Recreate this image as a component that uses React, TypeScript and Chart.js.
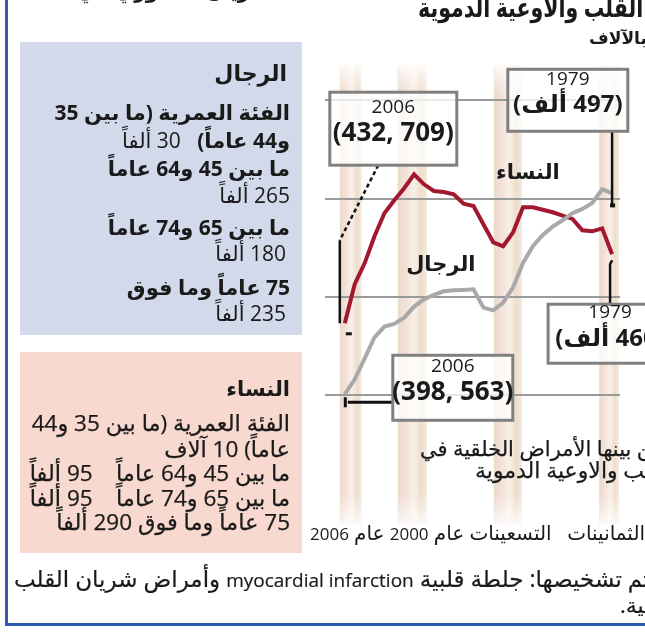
import React, { useEffect, useRef } from "react";
import { Chart, registerables } from "chart.js";

Chart.register(...registerables);

// ---- data (thousands of deaths) ----
const years = [2006, 2005, 2004, 2003, 2002, 2001, 2000, 1999, 1998, 1997, 1996, 1995, 1994, 1993, 1992, 1991, 1990, 1989, 1988, 1987, 1986, 1985, 1984, 1983, 1982, 1981, 1980, 1979];
const women = [436.6, 456.5, 467.1, 480.9, 492.6, 499.2, 505.3, 512.4, 507.3, 503.9, 503.4, 502.2, 497.4, 496.3, 487.0, 477.8, 475.8, 482.9, 495.6, 495.6, 494.4, 493.1, 491.4, 489.7, 483.9, 483.4, 484.9, 471.7];
const men = [400.5, 408.1, 418.6, 429.5, 434.9, 436.3, 439.5, 445.1, 448.8, 451.1, 452.9, 453.4, 453.6, 453.9, 444.6, 443.2, 447.1, 454.9, 467.3, 475.8, 481.6, 485.8, 489.0, 492.6, 494.8, 497.8, 504.8, 502.7];
const gridValues = [400, 450, 500, 550];
const bandRanges = [[2006.5, 2004.3], [2000.65, 1997.7], [1990.95, 1988.1], [1980.3, 1978.3]];
const axisLabels = ["الثمانينات", "\u00a0\u00a0التسعينات", "عام 2000", "عام 2006"];
const seriesNames = ["النساء", "الرجال"];

const menRows = [
  { b: "الفئة العمرية (ما بين 35", r: "" },
  { b: "و44 عاماً)", r: "30 ألفاً" },
  { b: "ما بين 45 و64 عاماً", r: "" },
  { b: "", r: "265 ألفاً" },
  { b: "ما بين 65 و74 عاماً", r: "" },
  { b: "", r: "180 ألفاً" },
  { b: "75 عاماً وما فوق", r: "" },
  { b: "", r: "235 ألفاً" },
];
const womenRows = [
  "الفئة العمرية (ما بين 35 و44",
  "عاماً)  10 آلاف",
  "ما بين 45 و64 عاماً \u00a0\u00a0 95 ألفاً",
  "ما بين 65 و74 عاماً \u00a0\u00a0 95 ألفاً",
  "75 عاماً وما فوق 290 ألفاً",
];

// annotation boxes: anchored on a dataset point, box centred at a data position
const annotationBoxes = [
  { ds: 0, idx: 0, title: "2006", value: "(432, 709)", cx: 2001.1, cy: 535.6, w: 127, h: 73, vsize: 26, dir: "ltr" },
  { ds: 1, idx: 27, title: "1979", value: "(497 ألف)", cx: 1983.47, cy: 550.05, w: 120, h: 62, vsize: 24, dir: "rtl" },
  { ds: 0, idx: 27, title: "1979", value: "(460 ألف)", cx: 1979.2, cy: 431.3, w: 124, h: 59, vsize: 24, dir: "rtl" },
  { ds: 1, idx: 0, title: "2006", value: "(398, 563)", cx: 1995.09, cy: 403.8, w: 120, h: 65, vsize: 26, dir: "ltr" },
];
const seriesLabelPos = [
  { text: seriesNames[0], x: 1987.5, y: 512.9 },
  { text: seriesNames[1], x: 1996.3, y: 466.1 },
];

const FONT = '"Open Sans", "DejaVu Sans", sans-serif';

const bandsPlugin = {
  id: "bands",
  beforeDraw(chart: any) {
    const { ctx, chartArea, scales } = chart;
    const xs = scales.x;
    ctx.save();
    bandRanges.forEach(([a, b]) => {
      const x1 = xs.getPixelForValue(a);
      const x2 = xs.getPixelForValue(b);
      const g = ctx.createLinearGradient(x1, 0, x2, 0);
      g.addColorStop(0, "rgba(226,202,176,0.7)");
      g.addColorStop(0.3, "rgba(238,210,200,0.65)");
      g.addColorStop(0.55, "rgba(244,230,214,0.6)");
      g.addColorStop(0.8, "rgba(228,206,180,0.7)");
      g.addColorStop(1, "rgba(236,216,196,0.5)");
      ctx.fillStyle = g;
      ctx.fillRect(x1, chartArea.top, x2 - x1, chartArea.bottom - chartArea.top);
      const t = ctx.createLinearGradient(0, chartArea.top, 0, chartArea.top + 30);
      t.addColorStop(0, "rgba(255,255,255,0.8)");
      t.addColorStop(1, "rgba(255,255,255,0)");
      ctx.fillStyle = t;
      ctx.fillRect(x1, chartArea.top, x2 - x1, 30);
      const bt = ctx.createLinearGradient(0, chartArea.bottom - 30, 0, chartArea.bottom);
      bt.addColorStop(0, "rgba(255,255,255,0)");
      bt.addColorStop(1, "rgba(255,255,255,0.8)");
      ctx.fillStyle = bt;
      ctx.fillRect(x1, chartArea.bottom - 30, x2 - x1, 30);
    });
    ctx.restore();
  },
};

const annotPlugin = {
  id: "annots",
  afterDatasetsDraw(chart: any) {
    const { ctx, scales } = chart;
    const xs = scales.x;
    const ys = scales.y;
    ctx.save();
    const pt = (ds: number, idx: number) => {
      const el = chart.getDatasetMeta(ds).data[idx];
      return { x: el.x, y: el.y };
    };
    const boxes = annotationBoxes.map((a) => {
      const cx = xs.getPixelForValue(a.cx);
      const cy = ys.getPixelForValue(a.cy);
      return { ...a, px: cx, py: cy, left: cx - a.w / 2, top: cy - a.h / 2, right: cx + a.w / 2, bottom: cy + a.h / 2, anchor: pt(a.ds, a.idx) };
    });
    ctx.strokeStyle = "#111";
    ctx.fillStyle = "#111";
    ctx.lineWidth = 2.5;
    {
      const b = boxes[0];
      const A = b.anchor;
      ctx.setLineDash([4, 3]);
      ctx.beginPath();
      ctx.moveTo(b.px - 15, b.bottom);
      ctx.lineTo(A.x - 5, A.y - 83);
      ctx.stroke();
      ctx.setLineDash([]);
      ctx.beginPath();
      ctx.moveTo(A.x - 5, A.y - 83);
      ctx.lineTo(A.x - 5, A.y);
      ctx.stroke();
      ctx.fillRect(A.x + 1, A.y + 9, 6, 3);
    }
    {
      const b = boxes[1];
      const A = b.anchor;
      ctx.beginPath();
      ctx.moveTo(A.x, b.bottom);
      ctx.lineTo(A.x, A.y + 12);
      ctx.stroke();
      ctx.fillRect(A.x - 2, A.y + 10, 5, 4);
    }
    {
      const b = boxes[2];
      const A = b.anchor;
      ctx.beginPath();
      ctx.moveTo(A.x, A.y + 6);
      ctx.lineTo(A.x - 2, A.y + 10);
      ctx.lineTo(A.x - 2, b.top);
      ctx.stroke();
    }
    {
      const b = boxes[3];
      const A = b.anchor;
      ctx.lineWidth = 3;
      ctx.beginPath();
      ctx.moveTo(A.x + 3, A.y + 8);
      ctx.lineTo(b.left, A.y + 8);
      ctx.stroke();
      ctx.fillRect(A.x - 1, A.y + 3, 3, 10);
    }
    boxes.forEach((b) => {
      ctx.fillStyle = "rgba(255,255,255,0.78)";
      ctx.fillRect(b.left, b.top, b.w, b.h);
      ctx.strokeStyle = "#808080";
      ctx.lineWidth = 3;
      ctx.strokeRect(b.left, b.top, b.w, b.h);
      ctx.fillStyle = "#1a1a1a";
      ctx.textAlign = "center";
      ctx.textBaseline = "middle";
      ctx.direction = "ltr";
      ctx.font = `19px ${FONT}`;
      ctx.fillText(b.title, b.px, b.py - 21);
      ctx.direction = b.dir as any;
      ctx.font = `bold ${b.vsize}px ${FONT}`;
      ctx.fillText(b.value, b.px, b.py + 5);
    });
    ctx.direction = "rtl";
    ctx.textAlign = "center";
    ctx.textBaseline = "middle";
    ctx.fillStyle = "#1a1a1a";
    ctx.font = `bold 21px ${FONT}`;
    seriesLabelPos.forEach((s) => {
      ctx.fillText(s.text, xs.getPixelForValue(s.x), ys.getPixelForValue(s.y));
    });
    ctx.restore();
  },
};

function Txt(props: any) {
  const { x, y, size, bold, anchor = "right", children, lh, stroke, color, sx } = props;
  const lineH = lh || Math.round(size * 1.5);
  const style: any = {
    position: "absolute",
    top: y - lineH / 2,
    lineHeight: `${lineH}px`,
    fontSize: size,
    fontWeight: bold ? "bold" : "normal",
    fontFamily: FONT,
    direction: "rtl",
    whiteSpace: "nowrap",
    color: color || "#1a1a1a",
    zIndex: 2,
  };
  if (stroke) style.WebkitTextStroke = `${stroke}px ${color || "#1a1a1a"}`;
  if (anchor === "right") style.right = 645 - x;
  else style.left = x;
  if (sx) {
    style.transform = `scaleX(${sx})`;
    style.transformOrigin = anchor === "right" ? "right center" : "left center";
  }
  return <div style={style}>{children}</div>;
}

function narrowDigits(text: string, size: number) {
  return text.split(/(\d+)/).map((part, i) =>
    /^\d+$/.test(part) ? (
      <span key={i} style={{ fontSize: size, letterSpacing: "-1.6px" }}>{part}</span>
    ) : (
      <span key={i}>{part}</span>
    )
  );
}

export default function App() {
  const ref = useRef<HTMLCanvasElement>(null);
  useEffect(() => {
    const chart = new Chart(ref.current!, {
      type: "line",
      data: {
        datasets: [
          {
            label: seriesNames[0],
            data: years.map((yr, i) => ({ x: yr, y: women[i] })),
            borderColor: "#a3172f",
            borderWidth: 4,
            pointRadius: 0,
            tension: 0,
            order: 2,
          },
          {
            label: seriesNames[1],
            data: years.map((yr, i) => ({ x: yr, y: men[i] })),
            borderColor: "#a9a9a9",
            borderWidth: 4,
            pointRadius: 0,
            tension: 0,
            order: 1,
          },
        ],
      },
      options: {
        animation: false,
        responsive: false,
        devicePixelRatio: 1,
        layout: { padding: { left: 325, right: 25, top: 65, bottom: 107 } },
        plugins: { legend: { display: false }, tooltip: { enabled: false } },
        scales: {
          x: { type: "linear", reverse: true, min: 1978.2, max: 2008, display: false },
          y: {
            min: 334,
            max: 568,
            afterBuildTicks: (s: any) => {
              s.ticks = gridValues.map((v) => ({ value: v }));
            },
            ticks: { display: false },
            border: { display: false },
            grid: { color: "#9a9a9a", lineWidth: 2, drawTicks: false },
          },
        },
      },
      plugins: [bandsPlugin, annotPlugin],
    });
    return () => chart.destroy();
  }, []);

  const menYs = [112, 140, 168, 195, 227, 253, 287, 313];
  const womenYs = [422, 448, 472, 497, 521];

  return (
    <div style={{ position: "fixed", left: 0, top: 0, width: 645, height: 632, overflow: "hidden", background: "#fff" }}>
      <canvas ref={ref} width={645} height={632} style={{ position: "absolute", left: 0, top: 0, zIndex: 1 }} />
      {/* frame */}
      <div style={{ position: "absolute", left: 5, top: 0, width: 3, height: 626, background: "#2d5db3", zIndex: 3 }} />
      <div style={{ position: "absolute", left: 5, top: 623, width: 640, height: 3, background: "#2d5db3", zIndex: 3 }} />
      {/* header */}
      <Txt x={285} y={-9} size={20} bold>الشريان المحوري في</Txt>
      <Txt x={418} y={7} size={27} bold anchor="left" lh={30} sx={0.76}>أمراض القلب والاوعية الدموية</Txt>
      <Txt x={589} y={38} size={17} bold anchor="left">بالآلاف</Txt>
      {/* men panel */}
      <div style={{ position: "absolute", left: 20, top: 42, width: 282, height: 293, background: "#d2d9ea", zIndex: 0 }} />
      <Txt x={287} y={72} size={22} bold>{seriesNames[1]}</Txt>
      {menRows.map((r, i) => (
        <Txt key={i} x={r.b || i === 3 ? 290 : 286} y={menYs[i]} size={21} lh={27}>
          {r.b && <span style={{ fontWeight: "bold" }}>{r.b}</span>}
          {r.b && r.r ? "\u00a0\u00a0\u00a0" : ""}
          {r.r && <span style={{ fontWeight: "normal" }}>{r.r}</span>}
        </Txt>
      ))}
      {/* women panel */}
      <div style={{ position: "absolute", left: 20, top: 352, width: 282, height: 201, background: "#f8d9d0", zIndex: 0 }} />
      <Txt x={290} y={388} size={21} bold>{seriesNames[0]}</Txt>
      {womenRows.map((t, i) => (
        <Txt key={i} x={290} y={womenYs[i]} size={22.5} lh={25} stroke={0.25}>{t}</Txt>
      ))}
      {/* chart notes */}
      <Txt x={420} y={448} size={21} anchor="left" lh={24} stroke={0.25}>من بينها الأمراض الخلقية في</Txt>
      <Txt x={475} y={469} size={22} anchor="left" lh={24} stroke={0.25}>القلب والاوعية الدموية</Txt>
      <Txt x={310} y={533} size={20} anchor="left" lh={24}>{narrowDigits(axisLabels.join(" "), 17)}</Txt>
      {/* footer */}
      <Txt x={14} y={578} size={23} anchor="left" lh={26} stroke={0.2}>والتي يتم تشخيصها: جلطة قلبية <span style={{ fontSize: 19 }}>myocardial infarction</span> وأمراض شريان القلب</Txt>
      <Txt x={620} y={604} size={22} anchor="left" lh={24} stroke={0.2}>التاجية.</Txt>
    </div>
  );
}
